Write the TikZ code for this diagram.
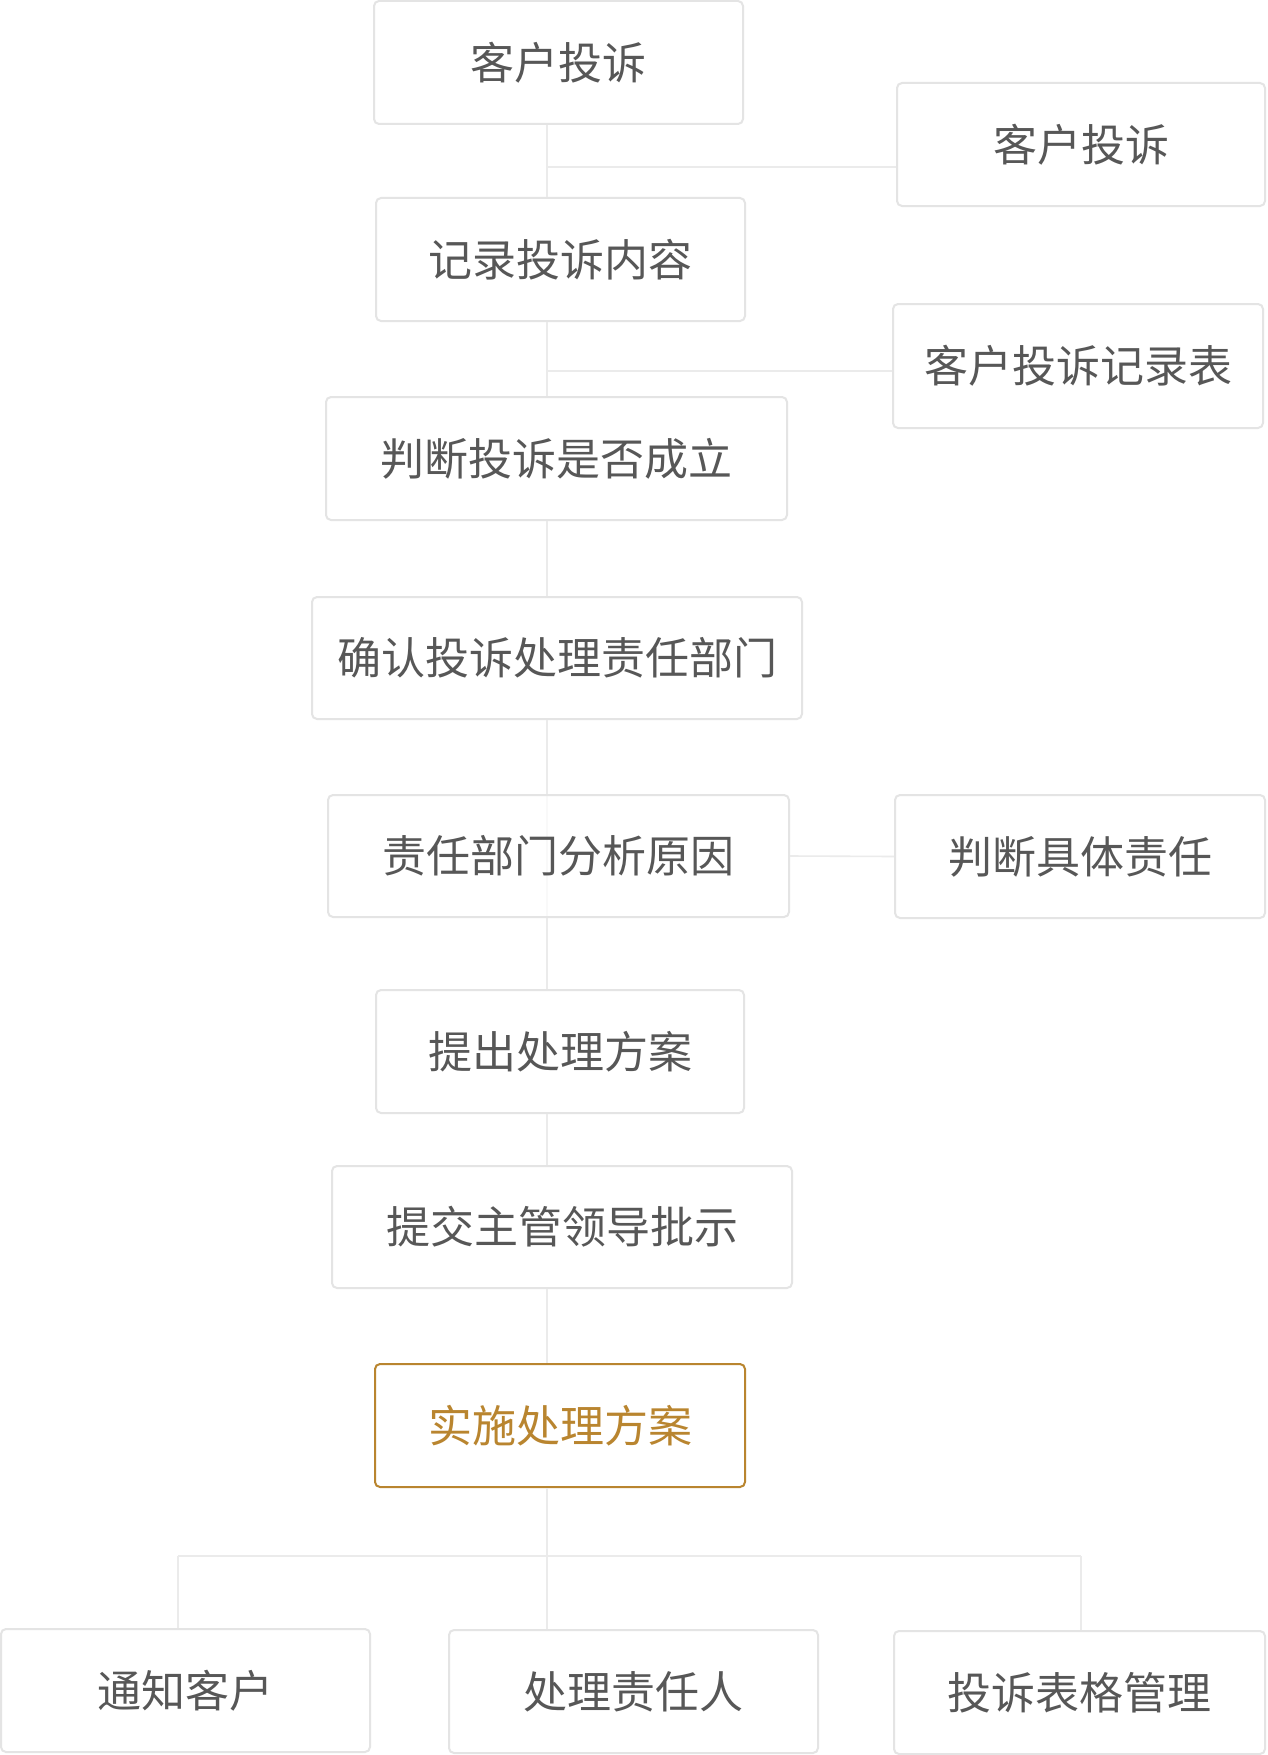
\documentclass[tikz,border=0pt]{standalone}
\usepackage{fontspec}
\newfontfamily\cjk{Noto Sans CJK SC}
\definecolor{boxline}{HTML}{E4E4E4}
\definecolor{connline}{HTML}{EBEBEB}
\definecolor{txtgray}{HTML}{575757}
\definecolor{gold}{HTML}{B9852F}
\tikzset{
  box/.style={draw=boxline, line width=2pt, rounded corners=5pt, fill=white,
    text=txtgray, font=\cjk\fontsize{44}{44}\selectfont, inner sep=0pt,
    minimum height=123pt},
  goldbox/.style={box, draw=gold, text=gold},
  conn/.style={draw=connline, line width=1.6pt}
}
\begin{document}
\begin{tikzpicture}[x=1pt,y=-1pt]
\fill[white] (0,0) rectangle (1267,1755);
\useasboundingbox (0,0) rectangle (1267,1755);
% trunk and branch points
\coordinate (tx) at (547,0);
\coordinate (j1) at (547,167);
\coordinate (j2) at (547,371);
\coordinate (jL) at (178,1556);
\coordinate (jR) at (1081,1556);
% nodes (main column)
\node[box, minimum width=369pt] (n1) at (558.5,62.5) {客户投诉};
\node[box, minimum width=369pt] (n2) at (560.5,259.5) {记录投诉内容};
\node[box, minimum width=461pt] (n3) at (556.5,458.5) {判断投诉是否成立};
\node[box, minimum width=490pt, minimum height=122pt] (n4) at (557,658) {确认投诉处理责任部门};
\node[box, minimum width=368pt] (n6) at (560,1051.5) {提出处理方案};
\node[box, minimum width=460pt, minimum height=122pt] (n7) at (562,1227) {提交主管领导批示};
\node[goldbox, minimum width=370pt] (n8) at (560,1425.5) {实施处理方案};
% bottom row
\node[box, minimum width=369pt] (n9) at (185.5,1690.5) {通知客户};
\node[box, minimum width=369pt] (n10) at (633.5,1691.5) {处理责任人};
\node[box, minimum width=371pt] (n11) at (1079.5,1692.5) {投诉表格管理};
% right column
\node[box, minimum width=368pt] (r1) at (1081,144.5) {客户投诉};
\node[box, minimum width=370pt, minimum height=124pt] (r2) at (1078,366) {客户投诉记录表};
\node[box, minimum width=370pt] (r3) at (1080,856.5) {判断具体责任};
% connectors
\begin{scope}[on background layer/.style={}]
\draw[conn] (n1.south -| tx) -- (n2.north -| tx);
\draw[conn] (n2.south -| tx) -- (n3.north -| tx);
\draw[conn] (n3.south -| tx) -- (n4.north -| tx);
\draw[conn] (n4.south -| tx) -- (n6.north -| tx);
\draw[conn] (n6.south -| tx) -- (n7.north -| tx);
\draw[conn] (n7.south -| tx) -- (n8.north -| tx);
\draw[conn] (n8.south -| tx) -- (n10.north -| tx);
\draw[conn] (j1) -- (j1 -| r1.west);
\draw[conn] (j2) -- (j2 -| r2.west);
\draw[conn] (jL) -- (jR);
\draw[conn] (jL) -- (jL |- n9.north);
\draw[conn] (jR) -- (jR |- n11.north);
\end{scope}
% box 5 is translucent, the trunk shows through it
\node[box, fill opacity=0.7, text opacity=1, minimum width=461pt, minimum height=122pt] (n5) at (558.5,856) {责任部门分析原因};
\draw[conn] (n5.east) -- (r3.west);
\end{tikzpicture}
\end{document}
